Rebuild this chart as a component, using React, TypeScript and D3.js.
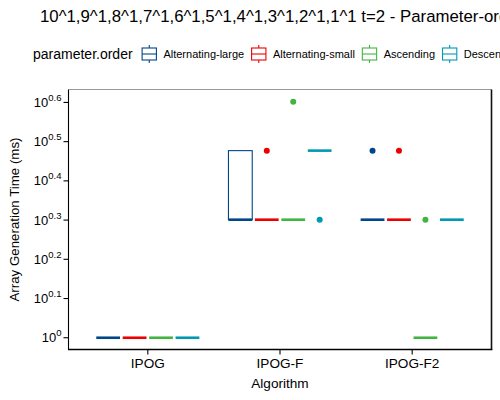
import { useMemo } from 'react'
import * as d3 from 'd3'

const algorithms = ['IPOG', 'IPOG-F', 'IPOG-F2']
const orders = ['Alternating-large', 'Alternating-small', 'Ascending', 'Descending']
const orderColors = ['#00468B', '#ED0000', '#42B540', '#0099B4']

// generation time (ms) per run, one array per parameter order, indexed by algorithm
const altLarge = [[1, 1, 1, 1, 1], [2, 2, 2, 3, 3], [2, 2, 2, 2, 3]]
const altSmall = [[1, 1, 1, 1, 1], [2, 2, 2, 2, 3], [2, 2, 2, 2, 3]]
const ascending = [[1, 1, 1, 1, 1], [2, 2, 2, 2, 4], [1, 1, 1, 1, 2]]
const descending = [[1, 1, 1, 1, 1], [3, 3, 3, 3, 2], [2, 2, 2, 2, 2]]
const seriesRuns = [altLarge, altSmall, ascending, descending]

const yTickExps = ['0', '0.1', '0.2', '0.3', '0.4', '0.5', '0.6']

const title = '10^1,9^1,8^1,7^1,6^1,5^1,4^1,3^1,2^1,1^1 t=2 - Parameter-order'
const FONT = '"Liberation Sans", Arial, Helvetica, sans-serif'

const W = 500
const H = 400
const panel = { left: 68.5, right: 491.5, top: 89.5, bottom: 349.5 }

function boxStats(values: number[]) {
  const s = [...values].sort(d3.ascending)
  const q1 = d3.quantile(s, 0.25) as number
  const med = d3.quantile(s, 0.5) as number
  const q3 = d3.quantile(s, 0.75) as number
  const iqr = q3 - q1
  const inside = s.filter((v) => v >= q1 - 1.5 * iqr && v <= q3 + 1.5 * iqr)
  return {
    q1, med, q3,
    lo: d3.min(inside) as number,
    hi: d3.max(inside) as number,
    outliers: s.filter((v) => v < q1 - 1.5 * iqr || v > q3 + 1.5 * iqr),
  }
}

function textWidth(str: string, size: number) {
  const ctx = document.createElement('canvas').getContext('2d')
  if (!ctx) return str.length * size * 0.5
  ctx.font = `${size}px ${FONT}`
  return ctx.measureText(str).width
}

export default function App() {
  const x = d3.scalePoint<string>().domain(algorithms).range([panel.left, panel.right]).padding(0.6)
  const step = x.step()
  const dodge = d3.scaleBand<string>().domain(orders).range([-0.4 * step, 0.4 * step])
  const boxW = dodge.bandwidth() * 0.9
  const y = d3.scaleLog().domain([Math.pow(10, -0.03), Math.pow(10, 0.633)]).range([panel.bottom, panel.top])

  const legend = useMemo(() => {
    let cx = 33 + textWidth('parameter.order', 14) + 8
    return orders.map((o) => {
      const item = { keyX: cx, textX: cx + 17.3 + 5.5 }
      cx = item.textX + textWidth(o, 11) + 6
      return item
    })
  }, [])

  const legendY = 54

  return (
    <svg width={W} height={H} style={{ position: 'absolute', left: 0, top: 0, background: '#fff' }} fontFamily={FONT}>
      <rect width={W} height={H} fill="#fff" />
      <text x={40} y={22} fontSize={16.8} fill="#000">{title}</text>

      {/* legend */}
      <text x={33} y={59} fontSize={14} fill="#000">parameter.order</text>
      {orders.map((o, i) => {
        const { keyX, textX } = legend[i]
        const c = orderColors[i]
        const mid = keyX + 8.65
        return (
          <g key={o}>
            <line x1={mid} x2={mid} y1={legendY - 9} y2={legendY + 9} stroke={c} strokeWidth={1.1} />
            <rect x={keyX + 1.5} y={legendY - 6} width={14.3} height={12} fill="#fff" stroke={c} strokeWidth={1.1} />
            <line x1={keyX + 1.5} x2={keyX + 15.8} y1={legendY} y2={legendY} stroke={c} strokeWidth={1.1} />
            <text x={textX} y={legendY + 4} fontSize={11} fill="#000">{o}</text>
          </g>
        )
      })}

      {/* panel frame */}
      <line x1={panel.left} x2={panel.right} y1={panel.top} y2={panel.top} stroke="#999" strokeWidth={1} />
      <line x1={panel.right} x2={panel.right} y1={panel.top} y2={panel.bottom + 0.5} stroke="#111" strokeWidth={1.6} />
      <line x1={panel.left} x2={panel.left} y1={panel.top} y2={panel.bottom} stroke="#000" strokeWidth={1.1} />
      <line x1={panel.left - 0.5} x2={panel.right + 0.8} y1={panel.bottom} y2={panel.bottom} stroke="#000" strokeWidth={1.4} />

      {/* y axis */}
      {yTickExps.map((e) => {
        const yy = y(Math.pow(10, +e))
        return (
          <g key={e}>
            <line x1={panel.left - 5} x2={panel.left} y1={yy} y2={yy} stroke="#000" strokeWidth={1.1} />
            <text x={panel.left - 7} y={yy + 4.5} textAnchor="end" fontSize={13} fill="#000">
              10<tspan dy={-6} fontSize={9.5}>{e}</tspan>
            </text>
          </g>
        )
      })}
      <text transform={`translate(19,${(panel.top + panel.bottom) / 2}) rotate(-90)`} textAnchor="middle" fontSize={13.3} fill="#000">
        Array Generation Time (ms)
      </text>

      {/* x axis */}
      {algorithms.map((a) => (
        <g key={a}>
          <line x1={x(a)} x2={x(a)} y1={panel.bottom} y2={panel.bottom + 5} stroke="#000" strokeWidth={1.1} />
          <text x={x(a)} y={367.5} textAnchor="middle" fontSize={13.6} fill="#000">{a}</text>
        </g>
      ))}
      <text x={(panel.left + panel.right) / 2} y={387.5} textAnchor="middle" fontSize={13.6} fill="#000">Algorithm</text>

      {/* boxes */}
      {seriesRuns.map((runs, si) =>
        runs.map((vals, ai) => {
          const st = boxStats(vals)
          const cx = (x(algorithms[ai]) as number) + (dodge(orders[si]) as number) + dodge.bandwidth() / 2
          const c = orderColors[si]
          const x0 = cx - boxW / 2
          return (
            <g key={`${si}-${ai}`}>
              <line x1={cx} x2={cx} y1={y(st.q3)} y2={y(st.hi)} stroke={c} strokeWidth={1.1} />
              <line x1={cx} x2={cx} y1={y(st.q1)} y2={y(st.lo)} stroke={c} strokeWidth={1.1} />
              <rect x={x0} y={y(st.q3)} width={boxW} height={Math.max(0, y(st.q1) - y(st.q3))} fill="#fff" stroke={c} strokeWidth={1.1} />
              <line x1={x0} x2={x0 + boxW} y1={y(st.med)} y2={y(st.med)} stroke={c} strokeWidth={2.6} />
              {st.outliers.map((v, k) => (
                <circle key={k} cx={cx} cy={y(v)} r={3} fill={c} />
              ))}
            </g>
          )
        })
      )}
    </svg>
  )
}
